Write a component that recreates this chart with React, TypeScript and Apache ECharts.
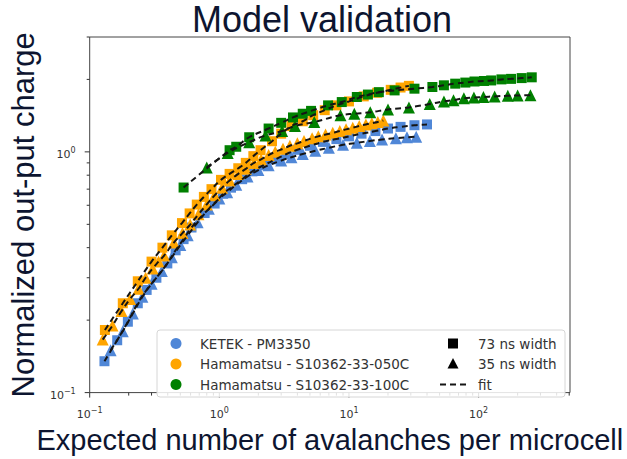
import React, { useEffect, useRef } from "react";
import * as echarts from "echarts";

// ---- data ----
const ketekSqX = [0.13, 0.163, 0.197, 0.235, 0.275, 0.327, 0.397, 0.46, 0.53, 0.61, 0.77, 0.92, 1.07, 1.23, 1.5, 1.8, 2.2, 2.7, 3.3, 4.0, 5.0, 6.3, 8.0, 10, 12.5, 16, 20, 25, 32, 40];
const ketekSqY = [0.135, 0.165, 0.197, 0.235, 0.267, 0.3, 0.344, 0.39, 0.434, 0.485, 0.557, 0.61, 0.67, 0.71, 0.77, 0.83, 0.88, 0.93, 0.98, 1.02, 1.06, 1.1, 1.13, 1.16, 1.19, 1.22, 1.25, 1.27, 1.29, 1.3];
const ketekTrX = [0.145, 0.18, 0.215, 0.255, 0.3, 0.36, 0.43, 0.5, 0.57, 0.68, 0.83, 1.0, 1.15, 1.35, 1.65, 2.0, 2.4, 3.0, 3.6, 4.4, 5.5, 7, 9, 11.5, 14.5, 18, 23, 28, 33];
const ketekTrY = [0.15, 0.18, 0.213, 0.25, 0.283, 0.32, 0.365, 0.41, 0.45, 0.51, 0.58, 0.64, 0.68, 0.73, 0.79, 0.84, 0.88, 0.92, 0.95, 0.98, 1.01, 1.04, 1.07, 1.09, 1.11, 1.125, 1.14, 1.15, 1.155];
const h050SqX = [0.131, 0.18, 0.235, 0.3, 0.364, 0.43, 0.515, 0.59, 0.67, 0.76, 0.87, 1.03, 1.2, 1.4, 1.6, 1.83, 2.08, 2.55, 3.0, 3.6, 4.4, 5.3, 6.5, 8.0, 10, 13, 16.5, 21, 25, 29];
const h050SqY = [0.182, 0.235, 0.29, 0.35, 0.4, 0.45, 0.506, 0.555, 0.604, 0.65, 0.7, 0.765, 0.81, 0.855, 0.9, 0.96, 1.016, 1.107, 1.19, 1.28, 1.34, 1.42, 1.49, 1.56, 1.62, 1.7, 1.76, 1.81, 1.85, 1.88];
const h050TrX = [0.126, 0.15, 0.176, 0.205, 0.238, 0.27, 0.306, 0.34, 0.375, 0.446, 0.52, 0.596, 0.69, 0.8, 0.92, 1.05, 1.2, 1.4, 1.6, 1.85, 2.1, 2.4, 2.7, 3.1, 3.5, 4.0, 4.5, 5.2, 5.8, 6.6, 7.5, 8.5, 9.5, 10.7, 12, 13.5, 15, 16.7, 18.4];
const h050TrY = [0.166, 0.19, 0.218, 0.245, 0.27, 0.3, 0.328, 0.35, 0.371, 0.42, 0.46, 0.499, 0.55, 0.605, 0.66, 0.71, 0.76, 0.81, 0.85, 0.9, 0.93, 0.97, 1.0, 1.03, 1.06, 1.085, 1.11, 1.14, 1.16, 1.18, 1.2, 1.22, 1.24, 1.26, 1.28, 1.3, 1.315, 1.33, 1.35];
const h100SqX = [0.53, 1.2, 1.35, 1.7, 2.4, 3.0, 3.7, 4.4, 5.1, 6.9, 8.8, 11.5, 14, 17, 22.5, 32, 44, 54, 66, 79, 93, 110, 125, 150, 178, 215, 257];
const h100SqY = [0.711, 1.016, 1.05, 1.15, 1.25, 1.32, 1.39, 1.44, 1.48, 1.56, 1.61, 1.69, 1.73, 1.77, 1.8, 1.83, 1.86, 1.89, 1.92, 1.94, 1.96, 1.97, 1.98, 2.0, 2.01, 2.025, 2.04];
const h100TrX = [0.8, 1.16, 1.7, 2.27, 3.05, 3.83, 5.4, 8.6, 11, 14.6, 20, 29, 42, 54, 64, 77, 92, 109, 133, 168, 200, 251];
const h100TrY = [0.862, 0.99, 1.097, 1.17, 1.22, 1.28, 1.33, 1.42, 1.44, 1.46, 1.5, 1.53, 1.58, 1.62, 1.64, 1.67, 1.68, 1.69, 1.7, 1.71, 1.715, 1.72];

const xMajorTicks = [0.1, 1, 10, 100];
const xMinorTicks = [0.2, 0.3, 0.4, 0.5, 0.6, 0.7, 0.8, 0.9, 2, 3, 4, 5, 6, 7, 8, 9, 20, 30, 40, 50, 60, 70, 80, 90, 200, 300, 400, 500];
const yMajorTicks = [0.1, 1];
const yMinorTicks = [0.2, 0.3, 0.4, 0.5, 0.6, 0.7, 0.8, 0.9, 2, 3];

const deviceNames = ["KETEK - PM3350", "Hamamatsu - S10362-33-050C", "Hamamatsu - S10362-33-100C"];
const markerNames = ["73 ns width", "35 ns width", "fit"];

const BLUE = "#5087d7";
const ORANGE = "#ffa500";
const GREEN = "#008000";
const NAVY = "#0d1530";

const zip = (xs: number[], ys: number[]) => xs.map((x, i) => [x, ys[i]]);

const fmtPow = (v: number) => {
  const l = Math.log10(v);
  const r = Math.round(l);
  if (Math.abs(l - r) > 1e-6) return "";
  return `{b|10}{s|${r < 0 ? "\u2212" + -r : r}}`;
};

const labelRich = {
  b: { fontSize: 11, lineHeight: 16, fontFamily: "DejaVu Sans", color: "#333" },
  s: { fontSize: 8, lineHeight: 10, verticalAlign: "top", fontFamily: "DejaVu Sans", color: "#333" },
};

export default function App() {
  const ref = useRef<HTMLDivElement>(null);
  useEffect(() => {
    if (!ref.current) return;
    document.body.style.margin = "0";
    const chart = echarts.init(ref.current, undefined, { renderer: "svg" });

    const groups = [
      { x: ketekSqX, y: ketekSqY, c: BLUE, s: "rect", size: 10 },
      { x: ketekTrX, y: ketekTrY, c: BLUE, s: "triangle", size: 12 },
      { x: h050SqX, y: h050SqY, c: ORANGE, s: "rect", size: 10 },
      { x: h050TrX, y: h050TrY, c: ORANGE, s: "triangle", size: 12 },
      { x: h100SqX, y: h100SqY, c: GREEN, s: "rect", size: 10 },
      { x: h100TrX, y: h100TrY, c: GREEN, s: "triangle", size: 12 },
    ];

    const scatterSeries = groups.map((g, i) => ({
      type: "scatter",
      name: "pts" + i,
      data: zip(g.x, g.y),
      symbol: g.s,
      symbolSize: g.size,
      itemStyle: { color: g.c, opacity: 1 },
      z: 2,
      silent: true,
    }));
    const fitSeries = groups.map((g, i) => ({
      type: "line",
      name: "fit" + i,
      data: zip(g.x, g.y),
      showSymbol: false,
      symbol: "none",
      smooth: 0.4,
      lineStyle: { color: "#151515", width: 2, type: [6, 4] },
      z: 3,
      silent: true,
    }));

    const tickSeries = {
      type: "custom",
      coordinateSystem: "cartesian2d",
      clip: false,
      silent: true,
      z: 5,
      data: [
        ...xMajorTicks.map((v) => [v, 0.1, 0, 5]),
        ...xMinorTicks.map((v) => [v, 0.1, 0, 3]),
        ...yMajorTicks.map((v) => [0.1, v, 1, 5]),
        ...yMinorTicks.map((v) => [0.1, v, 1, 3]),
      ],
      encode: { x: 0, y: 1 },
      renderItem: (params: any, api: any) => {
        const p = api.coord([api.value(0), api.value(1)]);
        const dir = api.value(2);
        const len = api.value(3);
        const shape =
          dir === 0
            ? { x1: p[0], y1: p[1], x2: p[0], y2: p[1] + len }
            : { x1: p[0], y1: p[1], x2: p[0] - len, y2: p[1] };
        return { type: "line", shape, style: { stroke: "#333", lineWidth: 1 } };
      },
    };

    const legendText = (x: number, y: number, t: string) => ({
      type: "text",
      x,
      y,
      style: { text: t, fontSize: 13.5, fontFamily: "DejaVu Sans", fill: "#333", verticalAlign: "middle", align: "left" },
      z: 11,
    });
    const rows = [343.5, 364, 384.5];
    const colors = [BLUE, ORANGE, GREEN];

    const option: any = {
      animation: false,
      backgroundColor: "#fff",
      title: {
        text: "Model validation",
        left: 322,
        top: 1,
        padding: 0,
        textAlign: "center",
        textStyle: { fontSize: 36, fontWeight: "normal", fontFamily: "Liberation Sans", color: NAVY },
      },
      grid: { left: 81, right: 57, top: 37, bottom: 55, show: true, borderColor: "#444", borderWidth: 1, backgroundColor: "transparent" },
      xAxis: {
        type: "log",
        logBase: 10,
        min: 0.1,
        max: 507,
        axisLine: { show: false },
        axisTick: { show: false },
        splitLine: { show: false },
        axisLabel: { interval: 0, margin: 14, formatter: fmtPow, rich: labelRich, showMinLabel: true, showMaxLabel: true, hideOverlap: false },
        name: "Expected number of avalanches per microcell",
        nameLocation: "middle",
        nameGap: 20,
        nameTextStyle: { fontSize: 29, fontFamily: "Liberation Sans", color: NAVY },
      },
      yAxis: {
        type: "log",
        logBase: 10,
        min: 0.1,
        max: 3,
        axisLine: { show: false },
        axisTick: { show: false },
        splitLine: { show: false },
        axisLabel: { interval: 0, margin: 14, padding: [6, 0, 0, 0], formatter: fmtPow, rich: labelRich, showMinLabel: true, showMaxLabel: true, hideOverlap: false },
        name: "Normalized out-put charge",
        nameLocation: "middle",
        nameGap: 43,
        nameTextStyle: { fontSize: 31, fontFamily: "Liberation Sans", color: NAVY },
      },
      series: [...scatterSeries, ...fitSeries, tickSeries],
      graphic: [
        {
          type: "rect",
          shape: { x: 157, y: 330, width: 408, height: 67, r: 3 },
          style: { fill: "rgba(255,255,255,0.85)", stroke: "#d6d6d6", lineWidth: 1 },
          z: 10,
        },
        ...rows.map((y, i) => ({ type: "circle", shape: { cx: 176, cy: y, r: 5.5 }, style: { fill: colors[i] }, z: 11 })),
        ...rows.map((y, i) => legendText(200, y, deviceNames[i])),
        { type: "rect", shape: { x: 448, y: rows[0] - 5, width: 10, height: 10 }, style: { fill: "#000" }, z: 11 },
        { type: "polygon", shape: { points: [[453, rows[1] - 6], [447.5, rows[1] + 4.5], [458.5, rows[1] + 4.5]] }, style: { fill: "#000" }, z: 11 },
        { type: "line", shape: { x1: 440, y1: rows[2], x2: 467, y2: rows[2] }, style: { stroke: "#151515", lineWidth: 2, lineDash: [6, 4] }, z: 11 },
        ...rows.map((y, i) => legendText(478, y, markerNames[i])),
      ],
    };
    chart.setOption(option);
    return () => chart.dispose();
  }, []);
  return <div ref={ref} style={{ width: 627, height: 459 }} />;
}
